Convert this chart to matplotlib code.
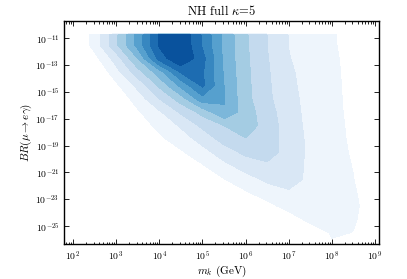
import numpy as np
import matplotlib
matplotlib.use("Agg")
import matplotlib.pyplot as plt
from matplotlib.ticker import FixedLocator, FuncFormatter

# log10 of m_k (GeV) grid columns
log_mk = [1.5, 2.0, 2.5, 3.0, 3.5, 4.0, 4.5, 5.0, 5.5,
          6.0, 6.5, 7.0, 7.5, 8.0, 8.5, 9.0, 9.5]
# log10 of BR(mu -> e gamma) grid rows
log_br = [-10.6, -10.75, -11.5, -12.5, -13.5, -14.5, -15.5, -16.5, -17.5,
          -18.5, -19.5, -20.5, -21.5, -22.5, -23.5, -24.5, -25.5, -26.5, -27.5]

# density, in units of the contour level index
density_top = [-1] * 17
density_m11 = [-1, -0.11, 1.35, 3.79, 6.35, 9.12, 10.0, 7.87, 5.75, 4.15, 3.0, 1.98, 1.54, 1.1, 0.68, -0.5, -1]
density_m12 = [-1, -0.5, 0.64, 2.43, 5.0, 8.4, 10.0, 8.33, 5.8, 4.21, 3.07, 2.04, 1.58, 1.15, 0.71, -0.5, -1]
density_m13 = [-1, -1, -0.14, 1.64, 3.57, 5.56, 8.12, 8.12, 5.9, 4.24, 3.13, 2.15, 1.63, 1.18, 0.73, -0.5, -1]
density_m14 = [-1, -1, -0.5, 0.79, 2.29, 4.2, 6.29, 8.2, 6.0, 4.28, 3.18, 2.22, 1.65, 1.2, 0.75, -0.5, -1]
density_m15 = [-1, -1, -1, 0.25, 1.42, 3.0, 4.5, 6.67, 6.07, 4.31, 3.23, 2.29, 1.69, 1.22, 0.76, -0.5, -1]
density_m16 = [-1, -1, -1, -0.5, 0.86, 1.84, 3.15, 4.33, 5.9, 4.48, 3.45, 2.37, 1.71, 1.24, 0.78, -0.5, -1]
density_m17 = [-1, -1, -1, -1, 0.45, 1.26, 2.12, 3.22, 4.0, 4.5, 3.59, 2.45, 1.74, 1.28, 0.81, -0.5, -1]
density_m18 = [-1, -1, -1, -1, -0.3, 0.79, 1.5, 2.37, 3.38, 3.95, 3.57, 2.53, 1.78, 1.31, 0.84, -0.5, -1]
density_m19 = [-1, -1, -1, -1, -1, -0.3, 0.85, 1.62, 2.5, 3.23, 3.45, 2.58, 1.8, 1.35, 0.89, -0.5, -1]
density_m20 = [-1, -1, -1, -1, -1, -1, -0.3, 0.9, 1.72, 2.4, 2.8, 2.35, 1.83, 1.39, 0.96, -0.5, -1]
density_m21 = [-1, -1, -1, -1, -1, -1, -1, -0.3, 0.96, 1.61, 2.2, 2.3, 1.84, 1.43, 1.02, 0.0, -1]
density_m22 = [-1, -1, -1, -1, -1, -1, -1, -1, -0.3, 0.88, 1.5, 1.9, 1.8, 1.5, 1.1, 0.48, -1]
density_m23 = [-1, -1, -1, -1, -1, -1, -1, -1, -1, -0.3, 0.66, 1.4, 1.6, 1.5, 1.15, 0.6, -1]
density_m24 = [-1, -1, -1, -1, -1, -1, -1, -1, -1, -1, -0.3, 0.42, 1.3, 1.45, 1.1, 0.5, -1]
density_m25 = [-1, -1, -1, -1, -1, -1, -1, -1, -1, -1, -1, -0.3, 0.27, 1.1, 0.98, 0.3, -1]
density_m26 = [-1, -1, -1, -1, -1, -1, -1, -1, -1, -1, -1, -1, -0.5, 0.85, 0.6, -0.5, -1]
density_bottom = [-1] * 17

levels = [1, 2, 3, 4, 5, 6, 7, 8, 9, 11]
x_ticks = [2, 3, 4, 5, 6, 7, 8, 9]
y_ticks = [-11, -13, -15, -17, -19, -21, -23, -25]

plt.rcParams["font.family"] = "cmr10"
plt.rcParams["mathtext.fontset"] = "cm"
plt.rcParams["axes.unicode_minus"] = False

density = np.array([
    density_top, density_m11, density_m11, density_m12, density_m13,
    density_m14, density_m15, density_m16, density_m17, density_m18,
    density_m19, density_m20, density_m21, density_m22, density_m23,
    density_m24, density_m25, density_m26, density_bottom,
])

fig = plt.figure(figsize=(4.07, 2.79), dpi=100)
ax = fig.add_axes([0.158, 0.125, 0.774, 0.8])

colors = plt.cm.Blues(np.linspace(0.05, 0.87, 9))
ax.contourf(log_mk, log_br, density, levels=levels, colors=colors)

ax.set_xlim(1.8, 9.1)
ax.set_ylim(-26.34, -9.7)

ax.xaxis.set_major_locator(FixedLocator(x_ticks))
minor = [np.log10(k) + d for d in range(1, 10) for k in range(2, 10)]
ax.xaxis.set_minor_locator(FixedLocator(minor))
ax.yaxis.set_major_locator(FixedLocator(y_ticks))
ax.xaxis.set_major_formatter(FuncFormatter(lambda v, p: r"$10^{%d}$" % v))
ax.yaxis.set_major_formatter(FuncFormatter(lambda v, p: r"$10^{%d}$" % v))

ax.tick_params(which="both", direction="in", top=True, right=True,
               labelsize=7, width=0.6)
ax.tick_params(which="major", length=3.5)
ax.tick_params(which="minor", length=1.8)
for s in ax.spines.values():
    s.set_linewidth(1.0)

ax.set_title(r"NH full $\kappa$=5", fontsize=9, pad=4)
ax.set_xlabel(r"$m_k$ (GeV)", fontsize=8, labelpad=1)
ax.set_ylabel(r"$BR(\mu\to e\gamma)$", fontsize=8, labelpad=1)

fig.savefig("out.png", dpi=100)
